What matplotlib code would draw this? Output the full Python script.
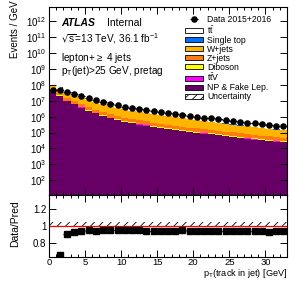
import numpy as np
import matplotlib.pyplot as plt
from matplotlib.patches import Patch

plt.rcParams['font.family'] = ['Liberation Sans', 'DejaVu Sans']
plt.rcParams['mathtext.default'] = 'regular'
plt.rcParams['hatch.linewidth'] = 0.6

# bin edges in pT(track in jet) [GeV], 1 GeV bins
edges = np.arange(0, 34)
centers = edges[:-1] + 0.5

# events / GeV, in units of 1e5
unit = 1e5
data = [500, 439, 327, 245, 184, 141, 106, 82.7, 64.2, 52.3, 42.5, 35.3, 29.9,
        25.4, 21.6, 18.9, 16.4, 14.2, 12.5, 10.8, 9.59, 8.57, 7.64, 6.81, 6.04,
        5.38, 4.80, 4.27, 3.81, 3.39, 3.01, 2.77, 2.52]
fake = [340, 203, 94.4, 57.9, 37.1, 23.7, 15.7, 10.9, 7.77, 6.05, 4.69, 3.72, 3.16,
        2.69, 2.24, 1.94, 1.67, 1.43, 1.25, 1.08, 0.959, 0.848, 0.756, 0.666, 0.594,
        0.523, 0.467, 0.411, 0.366, 0.327, 0.292, 0.266, 0.242]
ttv = [3, 2.03, 1.09, 0.79, 0.59, 0.44, 0.34, 0.26, 0.20, 0.165, 0.134, 0.112, 0.095,
       0.081, 0.069, 0.06, 0.052, 0.045, 0.04, 0.035, 0.031, 0.027, 0.024, 0.022,
       0.019, 0.017, 0.015, 0.014, 0.012, 0.011, 0.01, 0.009, 0.008]
diboson = [12, 8.11, 4.36, 3.16, 2.34, 1.78, 1.34, 1.05, 0.81, 0.66, 0.536, 0.446,
           0.379, 0.323, 0.275, 0.24, 0.209, 0.181, 0.158, 0.138, 0.122, 0.109,
           0.098, 0.087, 0.078, 0.069, 0.062, 0.055, 0.049, 0.044, 0.039, 0.035, 0.032]
zjets = [140, 87.9, 43.6, 28.9, 19.5, 14.1, 10.1, 7.40, 5.41, 4.13, 3.35, 2.60, 2.21,
         1.88, 1.60, 1.40, 1.22, 1.06, 0.924, 0.805, 0.714, 0.638, 0.569, 0.507,
         0.452, 0.403, 0.359, 0.32, 0.285, 0.254, 0.227, 0.207, 0.188]
wjets = [360, 257, 145, 110, 83.9, 65.1, 50.4, 39.2, 30.4, 24.2, 19.7, 16.2, 13.6,
         11.4, 9.62, 8.30, 7.13, 6.12, 5.28, 4.54, 3.98, 3.51, 3.09, 2.72, 2.39,
         2.10, 1.85, 1.62, 1.42, 1.25, 1.10, 0.988, 0.888]
singletop = [30, 20.3, 10.9, 7.89, 5.85, 4.44, 3.36, 2.61, 2.03, 1.65, 1.34, 1.12,
             0.948, 0.807, 0.687, 0.60, 0.522, 0.453, 0.396, 0.345, 0.306, 0.274,
             0.244, 0.217, 0.194, 0.173, 0.154, 0.137, 0.122, 0.109, 0.097, 0.089, 0.081]
ttbar = [115, 97.7, 63.6, 54.4, 45.7, 38.4, 30.8, 25.7, 21.0, 18.1, 14.95, 13.0,
         11.2, 9.72, 8.41, 7.46, 6.60, 5.81, 5.15, 4.56, 4.09, 3.71, 3.35, 3.02,
         2.73, 2.46, 2.22, 2.01, 1.82, 1.63, 1.47, 1.36, 1.25]
rel_unc = 0.03

# stack, bottom to top
stack = [
    (fake, '#660066', 'NP & Fake Lep.'),
    (ttv, '#ff00ff', r'$t\bar{t}V$'),
    (diboson, '#ffff00', 'Diboson'),
    (zjets, '#ff7a10', 'Z+jets'),
    (wjets, '#ffb400', 'W+jets'),
    (singletop, '#0070ff', 'Single top'),
    (ttbar, 'white', r'$t\bar{t}$'),
]

fig = plt.figure(figsize=(2.89, 2.81), dpi=100)
W, H = 289.0, 281.0
ax = fig.add_axes([49 / W, 1 - 195 / H, 238 / W, (195 - 7.3) / H])
rax = fig.add_axes([49 / W, 1 - 257 / H, 238 / W, (257 - 195) / H])

bottom = np.ones(len(centers))
handles = []
for vals, col, lab in stack:
    top = bottom + np.array(vals) * unit
    ax.stairs(top, edges, baseline=bottom, fill=True, color=col, lw=0)
    handles.append(Patch(facecolor=col, edgecolor='black', lw=0.6, label=lab))
    bottom = top
total = bottom - 1

ax.stairs(total * (1 + rel_unc), edges, baseline=total * (1 - rel_unc), fill=False,
          hatch='////', color='black', lw=0)

dvals = np.array(data) * unit
eb = ax.errorbar(centers, dvals, xerr=0.5, fmt='o', color='black', ms=3.7, lw=0.8,
                 label='Data 2015+2016')

ax.set_yscale('log')
ax.set_xlim(0, 33)
ax.set_ylim(12, 7.3e12)
ax.set_yticks([10.0 ** k for k in range(2, 13)])
ax.tick_params(labelbottom=False)

unc_patch = Patch(facecolor='white', edgecolor='black', hatch='////', lw=0.6,
                  label='Uncertainty')
ax.legend(handles=[eb] + handles[::-1] + [unc_patch], loc='upper left',
          bbox_to_anchor=(185 / W, 1 - 15 / H), bbox_transform=fig.transFigure,
          frameon=False, fontsize=6.2, handlelength=2.1, handleheight=0.6,
          handletextpad=0.45, labelspacing=0.0, borderpad=0, borderaxespad=0)

ax.text(0.05, 0.915, 'ATLAS', transform=ax.transAxes, fontsize=7.5,
        fontweight='bold', fontstyle='italic', va='center')
ax.text(0.245, 0.915, 'Internal', transform=ax.transAxes, fontsize=7.5, va='center')
ax.text(0.05, 0.835, r'$\sqrt{s}$=13 TeV, 36.1 fb$^{-1}$', transform=ax.transAxes,
        fontsize=7.2, va='center')
ax.text(0.05, 0.73, r'lepton+$\geq$ 4 jets', transform=ax.transAxes, fontsize=7.2,
        va='center')
ax.text(0.05, 0.66, r'$p_{T}$(jet)>25 GeV, pretag', transform=ax.transAxes,
        fontsize=7.2, va='center')

# ratio panel
ratio = dvals / total
rax.fill_between(edges, 1 - 0.01, 1 + rel_unc + 0.015, step='post', facecolor='none',
                 edgecolor='black', hatch='////', lw=0)
rax.axhline(1, color='red', lw=0.9)
rax.errorbar(centers, ratio, xerr=0.5, fmt='s', color='black', ms=3.8, lw=0.8)
rax.set_xlim(0, 33)
rax.set_ylim(0.63, 1.37)
rax.set_yticks([0.8, 1.0, 1.2])
rax.set_yticklabels(['0.8', '1', '1.2'])
rax.set_xticks(range(0, 35, 5))

for a in (ax, rax):
    a.set_xticks(range(0, 34), minor=True)
    a.tick_params(which='both', direction='in', top=True, right=True, labelsize=7,
                  width=0.7, pad=2)
    a.tick_params(which='major', length=5)
    a.tick_params(which='minor', length=2.5)
    for s in a.spines.values():
        s.set_linewidth(0.8)
rax.tick_params(axis='x', pad=0.5, labelsize=6.8)

fig.text(287 / W, 1 - 280.5 / H, r'$p_{T}$(track in jet) [GeV]', ha='right',
         va='bottom', fontsize=6.6)
fig.text(15 / W, 1 - 0.5 / H, 'Events / GeV', rotation=90, ha='center', va='top',
         fontsize=7)
fig.text(15 / W, 1 - 224 / H, 'Data/Pred', rotation=90, ha='center', va='center',
         fontsize=7.5)

fig.savefig('out.png', dpi=100)
